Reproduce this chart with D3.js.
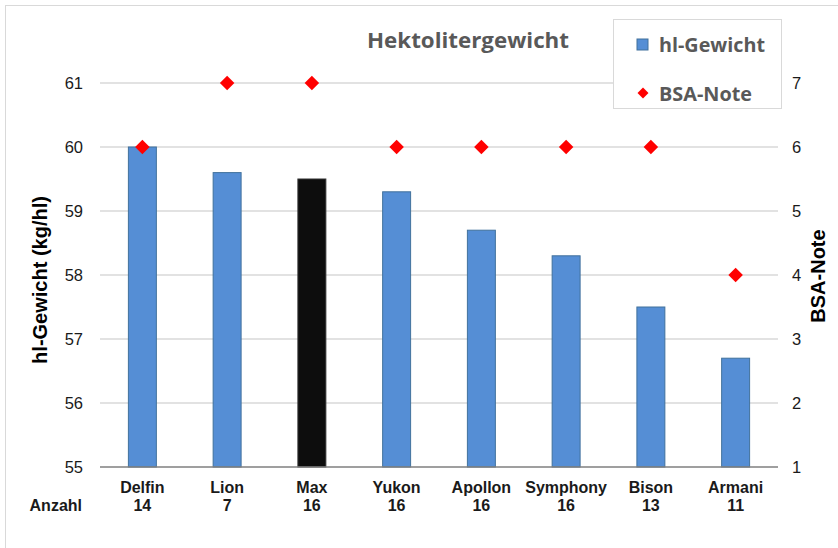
<!DOCTYPE html>
<html><head><meta charset="utf-8">
<script src="https://cdn.jsdelivr.net/npm/d3@7"></script>
<style>body{margin:0;background:#fff}svg{display:block}</style>
</head><body><svg id="c" width="838" height="548"></svg>
<script>
const categories = ["Delfin","Lion","Max","Yukon","Apollon","Symphony","Bison","Armani"];
const counts = [14,7,16,16,16,16,13,11];
const hlGewicht = [60.0,59.6,59.5,59.3,58.7,58.3,57.5,56.7];
const bsaNote = [6,7,7,6,6,6,6,4];
const leftTicks = [55,56,57,58,59,60,61];
const rightTicks = [1,2,3,4,5,6,7];

const svg = d3.select("#c");
const m = {l:100, r:778, t:83, b:467};
const x = d3.scaleBand().domain(categories).range([m.l, m.r]).paddingInner(0.67).paddingOuter(0.335);
const yL = d3.scaleLinear().domain([55,61]).range([m.b, m.t]);
const yR = d3.scaleLinear().domain([1,7]).range([m.b, m.t]);

svg.append("rect").attr("x",5.5).attr("y",5.5).attr("width",840).attr("height",560)
  .attr("fill","none").attr("stroke","#d9d9d9");

// gridlines
svg.append("g").selectAll("line").data(leftTicks.slice(1)).join("line")
  .attr("x1",m.l).attr("x2",m.r).attr("y1",d=>yL(d)).attr("y2",d=>yL(d))
  .attr("stroke","#d9d9d9").attr("stroke-width",1.3);

// bars
svg.append("g").selectAll("rect").data(categories).join("rect")
  .attr("x",d=>x(d)).attr("width",x.bandwidth())
  .attr("y",(d,i)=>yL(hlGewicht[i])).attr("height",(d,i)=>yL(55)-yL(hlGewicht[i]))
  .attr("fill",d=>d==="Max"?"#0d0d0d":"#558ed5")
  .attr("stroke",d=>d==="Max"?"#333":"#41719c").attr("stroke-width",1);

// axis line
svg.append("line").attr("x1",m.l).attr("x2",m.r).attr("y1",m.b).attr("y2",m.b)
  .attr("stroke","#7f7f7f").attr("stroke-width",1.5);

// diamonds
const dsym = d3.symbol().type(d3.symbolSquare).size(105);
svg.append("g").selectAll("path").data(categories).join("path")
  .attr("d",dsym)
  .attr("transform",(d,i)=>`translate(${x(d)+x.bandwidth()/2},${yR(bsaNote[i])}) rotate(45)`)
  .attr("fill","#ff0000");

const tickFont = "'Liberation Sans', Arial, sans-serif";
// left ticks
svg.append("g").selectAll("text").data(leftTicks).join("text")
  .attr("x",83).attr("y",d=>yL(d)).attr("dy","0.35em").attr("text-anchor","end")
  .attr("font-family",tickFont).attr("font-size",16.5).attr("fill","#1a1a1a").text(d=>d);
// right ticks
svg.append("g").selectAll("text").data(rightTicks).join("text")
  .attr("x",792).attr("y",d=>yR(d)).attr("dy","0.35em").attr("text-anchor","start")
  .attr("font-family",tickFont).attr("font-size",16.5).attr("fill","#1a1a1a").text(d=>d);

// category labels
const cat = svg.append("g").attr("font-family",tickFont).attr("font-weight","bold").attr("font-size",16).attr("fill","#1a1a1a");
cat.selectAll("text.c").data(categories).join("text").attr("class","c")
  .attr("x",d=>x(d)+x.bandwidth()/2).attr("y",493).attr("text-anchor","middle").text(d=>d);
cat.selectAll("text.n").data(counts).join("text").attr("class","n")
  .attr("x",(d,i)=>x(categories[i])+x.bandwidth()/2).attr("y",511).attr("text-anchor","middle").text(d=>d);
cat.append("text").attr("x",82).attr("y",511).attr("text-anchor","end").text("Anzahl");

// axis titles
svg.append("text").attr("transform","translate(47,280) rotate(-90)").attr("text-anchor","middle")
  .attr("font-family",tickFont).attr("font-weight","bold").attr("font-size",20).attr("fill","#000").text("hl-Gewicht (kg/hl)");
svg.append("text").attr("transform","translate(825,276) rotate(-90)").attr("text-anchor","middle")
  .attr("font-family",tickFont).attr("font-weight","bold").attr("font-size",20).attr("fill","#000").text("BSA-Note");

// title
svg.append("text").attr("x",468).attr("y",48).attr("text-anchor","middle")
  .attr("font-family","'Open Sans',sans-serif").attr("font-weight","bold").attr("font-size",22).attr("fill","#595959")
  .attr("textLength",202).attr("lengthAdjust","spacingAndGlyphs").text("Hektolitergewicht");

// legend
const lg = svg.append("g");
lg.append("rect").attr("x",613.5).attr("y",19.5).attr("width",168).attr("height",89).attr("fill","#fff").attr("stroke","#d9d9d9");
lg.append("rect").attr("x",637).attr("y",39).attr("width",11).attr("height",11).attr("fill","#558ed5").attr("stroke","#41719c");
lg.append("path").attr("d",d3.symbol().type(d3.symbolSquare).size(60)).attr("transform","translate(643,93) rotate(45)").attr("fill","#ff0000");
lg.append("text").attr("x",659).attr("y",52).attr("font-family","'Open Sans',sans-serif").attr("font-weight","bold").attr("font-size",20).attr("fill","#595959")
  .attr("textLength",106).attr("lengthAdjust","spacingAndGlyphs").text("hl-Gewicht");
lg.append("text").attr("x",659).attr("y",101).attr("font-family","'Open Sans',sans-serif").attr("font-weight","bold").attr("font-size",20).attr("fill","#595959")
  .attr("textLength",93).attr("lengthAdjust","spacingAndGlyphs").text("BSA-Note");
</script></body></html>
